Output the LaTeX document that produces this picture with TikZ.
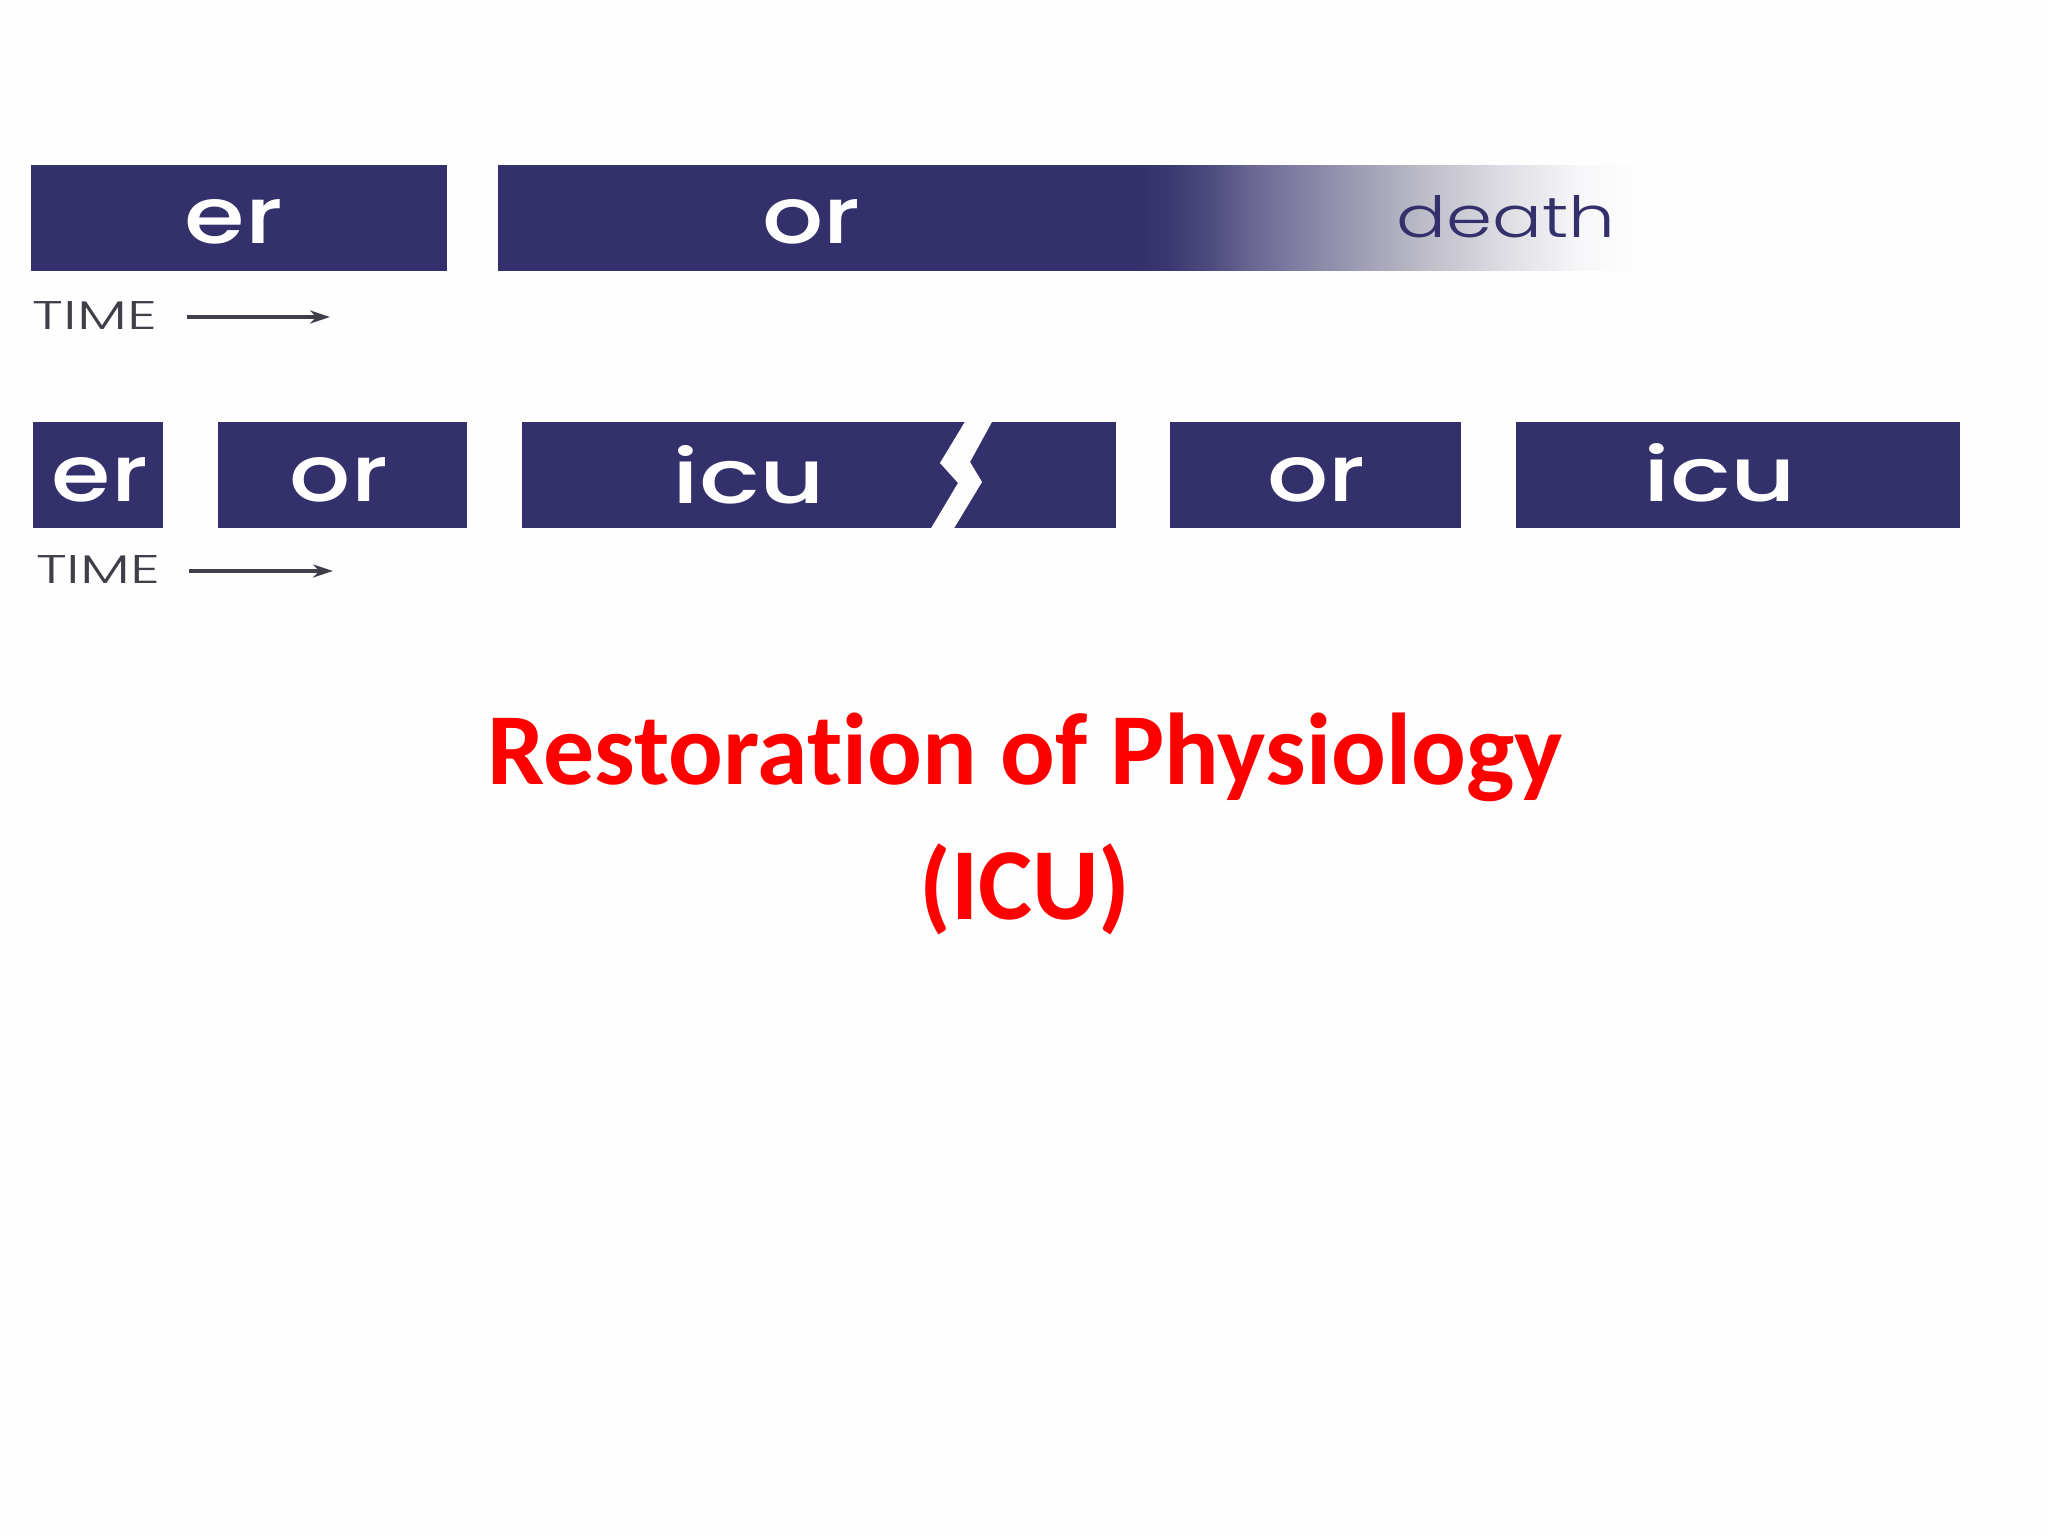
\documentclass[tikz,border=0pt]{standalone}
\usepackage{fontspec}
\usepackage{graphicx}
\usetikzlibrary{arrows.meta}
\setmainfont{Poppins Medium}
\newfontfamily\lightfont{Poppins Light}
\newfontfamily\titlefont[Ligatures=NoCommon]{Carlito}
\definecolor{barblue}{HTML}{33306B}
\definecolor{paper}{HTML}{FEFEFE}
\definecolor{timegrey}{HTML}{3F3F4A}
\definecolor{titlered}{HTML}{FF0000}
\pgfdeclarehorizontalshading{deathfade}{100bp}{
  color(0bp)=(barblue); color(25bp)=(barblue);
  color(28bp)=(barblue!96!white);
  color(31.8bp)=(barblue!88!white); color(36.8bp)=(barblue!72!white);
  color(45.5bp)=(barblue!50!white!90!gray); color(53.4bp)=(barblue!25!white!80!gray);
  color(61.2bp)=(barblue!12!white!90!gray); color(69bp)=(barblue!4!white);
  color(75bp)=(paper); color(100bp)=(paper)}
\newcommand{\fitbox}[3]{\resizebox{#1pt}{#2pt}{#3}}
\tikzset{
  x=1pt,y=-1pt,
  bar/.style={fill=barblue,draw=none,inner sep=0pt,outer sep=0pt,anchor=north west,minimum height=105.6pt},
  barlabel/.style={text=paper,inner sep=0pt,outer sep=0pt,anchor=base,font=\normalfont},
  timelabel/.style={text=timegrey,inner sep=0pt,outer sep=0pt,anchor=base west,font=\lightfont},
  timearrow/.style={draw=timegrey,line width=3.4pt,-{Stealth[length=20pt,width=13pt]}},
  titleline/.style={text=titlered,inner sep=0pt,outer sep=0pt,anchor=base,font=\titlefont\bfseries\fontsize{102}{110}\selectfont},
}
\begin{document}
\begin{tikzpicture}
\useasboundingbox (0,0) rectangle (2048,1536);
\fill[paper] (0,0) rectangle (2048,1536);
% first row
\node[bar,minimum width=640pt] (orA) at (498,165) {};
\node[bar,minimum width=416pt] (erA) at (31,165) {};
\shade[shading=deathfade] (orA.north east) rectangle (1640,270.4);
\node[barlabel] (erAt) at (234,243) {\fitbox{98}{44}{er}};
\node[barlabel] (orAt) at (811,243) {\fitbox{98}{44}{or}};
\node[barlabel,text=barblue,font=\lightfont] (deathA) at (1506,237) {\fitbox{219}{42}{death}};
\node[timelabel] (timeA) at (33,329) {\fitbox{124}{28}{TIME}};
\coordinate (aA) at (187,317);
\coordinate (bA) at (330,317);
\draw[timearrow] (aA) -- (bA);
% second row
\node[bar,minimum width=130pt] (erB) at (33,422) {};
\node[bar,minimum width=249pt] (orB) at (218,422) {};
\node[bar,minimum width=594pt] (icuB) at (522,422) {};
\node[bar,minimum width=291pt] (orC) at (1170,422) {};
\node[bar,minimum width=444pt] (icuC) at (1516,422) {};
\fill[paper] (966,420) -- (940,463) -- (958,483) -- (930,530) -- (953,530) -- (982,482) -- (970,462) -- (993,420) -- cycle;
\node[barlabel] (erBt) at (100,501) {\fitbox{96}{44}{er}};
\node[barlabel] (orBt) at (339,501) {\fitbox{98}{44}{or}};
\node[barlabel] (icuBt) at (749,503) {\fitbox{153}{58}{icu}};
\node[barlabel] (orCt) at (1316,501) {\fitbox{98}{44}{or}};
\node[barlabel] (icuCt) at (1720,501) {\fitbox{153}{58}{icu}};
\node[timelabel] (timeB) at (36,583) {\fitbox{124}{28}{TIME}};
\coordinate (aB) at (189,571);
\coordinate (bB) at (333,571);
\draw[timearrow] (aB) -- (bB);
% title
\node[titleline] (titleA) at (1025,784) {Restoration of Physiology};
\node[titleline] (titleB) at (1025,919) {(ICU)};
\end{tikzpicture}
\end{document}
